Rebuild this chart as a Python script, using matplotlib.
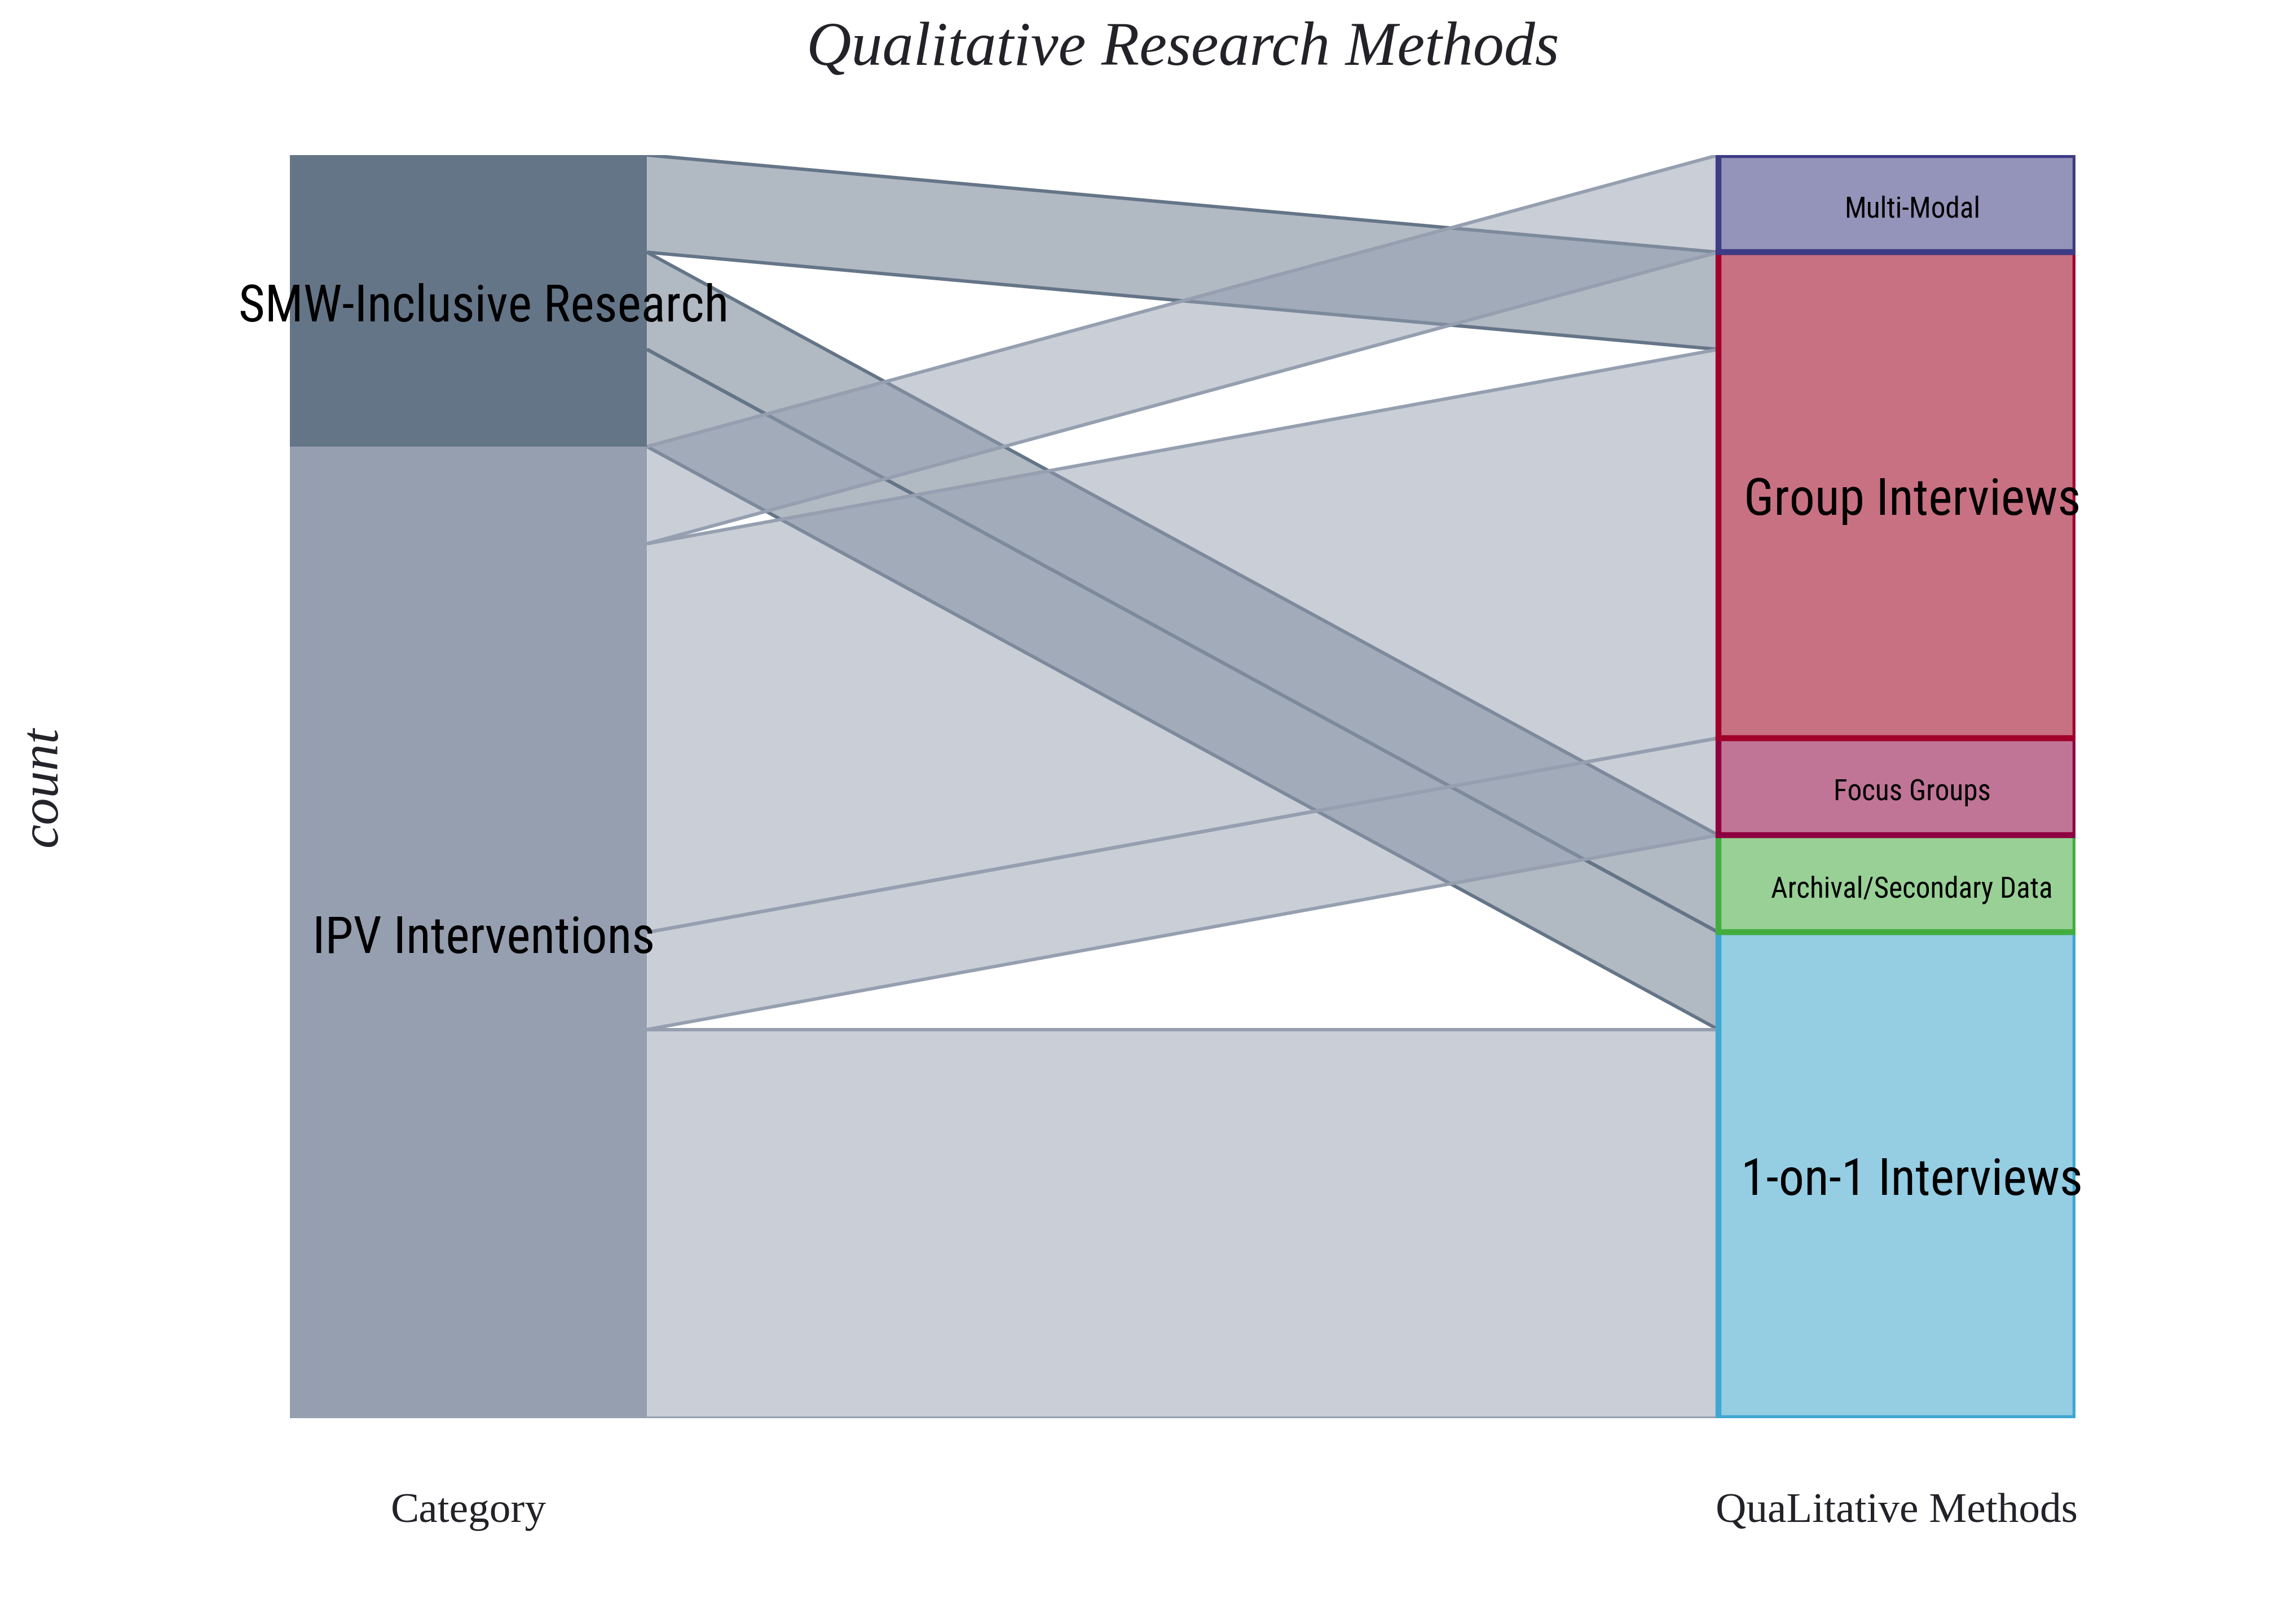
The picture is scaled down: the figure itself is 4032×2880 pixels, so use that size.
import matplotlib
matplotlib.use('Agg')
import matplotlib.pyplot as plt
from matplotlib import font_manager as fm
from matplotlib.patches import Rectangle, Polygon
import numpy as np

# ---------------- data ----------------
categories = ['SMW-Inclusive Research', 'IPV Interventions']
methods = ['Multi-Modal', 'Group Interviews', 'Focus Groups',
           'Archival/Secondary Data', '1-on-1 Interviews']
# counts[i][j] : category i -> method j
smw_counts = [0, 1, 0, 1, 1]
ipv_counts = [1, 4, 1, 0, 4]
dim_labels = ['Category', 'QuaLitative Methods']
title_text = 'Qualitative Research Methods'
y_label = 'count'

# ---------------- styles ----------------
cat_colors = ['#657588', '#959fb0']
method_fill = ['#9494ba', '#c87183', '#c07596', '#98d096', '#95cde3']
method_edge = ['#3d3b85', '#a0002a', '#8e0040', '#42ad3e', '#3ea7d2']
text_dark = '#222228'

W, H = 4032, 2880
DPI = 288
fig = plt.figure(figsize=(W / DPI, H / DPI), dpi=DPI)
fig.patch.set_facecolor('white')

# plot area in pixels
px_left, px_right, px_top, px_bottom = 514, 3680, 275, 2515
ax = fig.add_axes([px_left / W, 1 - px_bottom / H,
                   (px_right - px_left) / W, (px_bottom - px_top) / H])
ax.set_axis_off()

counts = np.array([smw_counts, ipv_counts], dtype=float)
total = counts.sum()
bw = 0.2  # bar width in axes units
ax.set_xlim(0, 1)
ax.set_ylim(total, 0)


def find_condensed():
    prefs = ['open sans', 'noto sans', 'roboto', 'liberation sans', 'dejavu sans', 'lato', 'inter']
    best = None
    for f in fm.fontManager.ttflist:
        fn = f.fname.lower().split('/')[-1]
        is_cond = ('condensed' in fn or 'narrow' in fn or
                   str(f.stretch) in ('condensed', 'semi-condensed', 'extra-condensed'))
        if not is_cond:
            continue
        bad = ['bold', 'italic', 'oblique', 'light', 'medium', 'black', 'thin', 'semibold', 'extra']
        if any(b in fn.replace('condensed', '') for b in bad):
            continue
        if f.style != 'normal':
            continue
        name = f.name.lower()
        rank = len(prefs)
        for k, p in enumerate(prefs):
            if name.startswith(p):
                rank = k
                break
        if best is None or rank < best[0]:
            best = (rank, f.fname)
    return best[1] if best else None


cpath = find_condensed()
if cpath:
    lab_fp = fm.FontProperties(fname=cpath)
else:
    lab_fp = fm.FontProperties(family=['Open Sans', 'Noto Sans', 'DejaVu Sans'])

serif = ['Liberation Serif', 'DejaVu Serif']

# fit label font sizes to reference widths
fig.canvas.draw()
rend = fig.canvas.get_renderer()


def fit_size(s, target_px):
    t = fig.text(0, 0, s, fontproperties=lab_fp, fontsize=10)
    w = t.get_window_extent(rend).width
    t.remove()
    return 10 * target_px / w


big_fs = fit_size('SMW-Inclusive Research', 870)
small_fs = fit_size('Archival/Secondary Data', 500)

# ---------------- geometry from data ----------------
cat_tot = counts.sum(axis=1)
met_tot = counts.sum(axis=0)
cat_start = np.concatenate([[0], np.cumsum(cat_tot)[:-1]])
met_start = np.concatenate([[0], np.cumsum(met_tot)[:-1]])

# flows: left ordering within category by method order,
# right ordering within method by category order
left_pos = {}
for i in range(len(categories)):
    y = cat_start[i]
    for j in range(len(methods)):
        if counts[i, j] > 0:
            left_pos[(i, j)] = (y, y + counts[i, j])
            y += counts[i, j]
right_pos = {}
for j in range(len(methods)):
    y = met_start[j]
    for i in range(len(categories)):
        if counts[i, j] > 0:
            right_pos[(i, j)] = (y, y + counts[i, j])
            y += counts[i, j]

x0, x1 = bw, 1 - bw
for i in range(len(categories)):
    for j in range(len(methods)):
        if counts[i, j] <= 0:
            continue
        ly0, ly1 = left_pos[(i, j)]
        ry0, ry1 = right_pos[(i, j)]
        z = 2 + i
        poly = Polygon([(x0, ly0), (x1, ry0), (x1, ry1), (x0, ly1)], closed=True,
                       facecolor=cat_colors[i], alpha=0.5, edgecolor='none', zorder=z)
        ax.add_patch(poly)
        ax.plot([x0, x1], [ly0, ry0], color=cat_colors[i], lw=1.5, zorder=z + 0.1,
                solid_capstyle='butt')
        ax.plot([x0, x1], [ly1, ry1], color=cat_colors[i], lw=1.5, zorder=z + 0.1,
                solid_capstyle='butt')

# left category bars
for i, c in enumerate(categories):
    ax.add_patch(Rectangle((0, cat_start[i]), bw, cat_tot[i], facecolor=cat_colors[i],
                           edgecolor='none', zorder=10))
    fs = big_fs if cat_tot[i] > 1 else small_fs
    ax.annotate(c, (bw / 2, cat_start[i] + cat_tot[i] / 2), xytext=(6.7, -3),
                textcoords='offset points', ha='center', va='center',
                fontproperties=lab_fp, fontsize=fs, color='black', zorder=20)

# right method boxes (draw bottom first so upper borders lie on top)
for j in reversed(range(len(methods))):
    ax.add_patch(Rectangle((1 - bw, met_start[j]), bw, met_tot[j], facecolor=method_fill[j],
                           edgecolor=method_edge[j], linewidth=2.6,
                           zorder=10 + (len(methods) - j) * 0.1, joinstyle='miter'))
for j, m in enumerate(methods):
    fs = big_fs if met_tot[j] > 1 else small_fs
    ax.annotate(m, (1 - bw / 2, met_start[j] + met_tot[j] / 2), xytext=(6.7, -2.5),
                textcoords='offset points', ha='center', va='center',
                fontproperties=lab_fp, fontsize=fs, color='black', zorder=20)

# dimension labels
tr = ax.get_xaxis_transform()
ax.text(bw / 2, -0.074, dim_labels[0], transform=tr, ha='center', va='center',
        family=serif, fontsize=18.8, color=text_dark)
ax.text(1 - bw / 2, -0.074, dim_labels[1], transform=tr, ha='center', va='center',
        family=serif, fontsize=18.8, color=text_dark)

# title & y label
fig.text((px_left + px_right) / 2 / W, 1 - 88 / H, title_text, ha='center', va='center',
         family=serif, style='italic', fontsize=27.5, color=text_dark)
fig.text(77 / W, 1 - (px_top + px_bottom) / 2 / H, y_label, ha='center', va='center',
         rotation=90, family=serif, style='italic', fontsize=24, color=text_dark)

fig.savefig('out.png', dpi=DPI, facecolor='white')
